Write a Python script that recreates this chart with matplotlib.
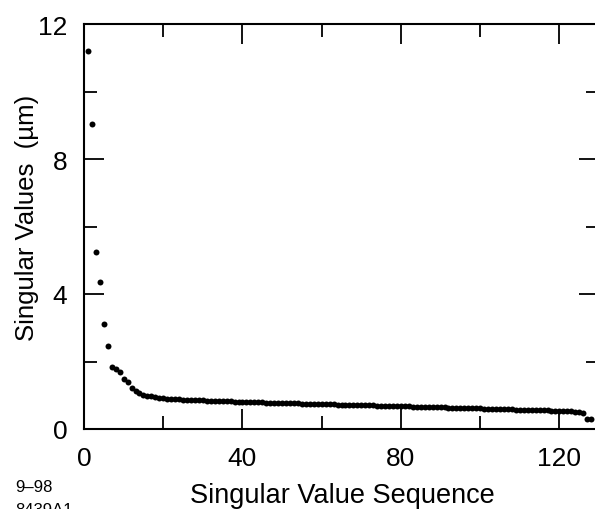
import matplotlib
matplotlib.use("Agg")
import matplotlib.pyplot as plt
from matplotlib.ticker import MultipleLocator

plt.rcParams['font.family'] = ['Liberation Sans', 'DejaVu Sans']

# Singular value index (1..128) and values (micrometres)
sequence = list(range(1, 129))
singular_values = [
    11.2, 9.05, 5.25, 4.35, 3.12, 2.45, 1.85, 1.78, 1.70, 1.48,
    1.38, 1.22, 1.12, 1.06, 1.02, 0.99, 0.97, 0.95, 0.93, 0.91,
    0.90, 0.89, 0.885, 0.88, 0.87, 0.865, 0.86, 0.855, 0.85, 0.845,
    0.84, 0.835, 0.83, 0.83, 0.825, 0.82, 0.815, 0.81, 0.805, 0.80,
    0.80, 0.80, 0.795, 0.79, 0.79, 0.785, 0.78, 0.78, 0.775, 0.77,
    0.77, 0.765, 0.76, 0.76, 0.755, 0.75, 0.75, 0.745, 0.745, 0.74,
    0.735, 0.735, 0.73, 0.725, 0.725, 0.72, 0.715, 0.715, 0.71, 0.705,
    0.705, 0.70, 0.70, 0.695, 0.69, 0.69, 0.685, 0.68, 0.68, 0.675,
    0.67, 0.67, 0.665, 0.66, 0.66, 0.655, 0.65, 0.65, 0.645, 0.64,
    0.64, 0.635, 0.635, 0.63, 0.625, 0.625, 0.62, 0.615, 0.615, 0.61,
    0.605, 0.60, 0.60, 0.595, 0.59, 0.585, 0.585, 0.58, 0.575, 0.57,
    0.57, 0.565, 0.56, 0.56, 0.555, 0.55, 0.55, 0.545, 0.54, 0.54,
    0.535, 0.53, 0.52, 0.51, 0.49, 0.46, 0.31, 0.29,
]

x_ticks = [0, 40, 80, 120]
y_ticks = [0, 4, 8, 12]

W, H = 595, 510
fig = plt.figure(figsize=(W / 100, H / 100), dpi=100)
ax = fig.add_axes([84 / W, 80 / H, (599 - 84) / W, 405 / H])

ax.plot(sequence, singular_values, 'o', color='black', markersize=4.3,
        markeredgewidth=0, clip_on=False)

ax.set_xlim(0, 130)
ax.set_ylim(0, 12)
ax.set_xticks(x_ticks)
ax.set_yticks(y_ticks)
ax.xaxis.set_minor_locator(MultipleLocator(20))
ax.yaxis.set_minor_locator(MultipleLocator(2))

for s in ax.spines.values():
    s.set_linewidth(1.5)

ax.tick_params(which='both', direction='in', top=True, right=True, width=1.3)
ax.tick_params(which='major', length=14.4, labelsize=19, pad=12)
ax.tick_params(which='minor', length=9.4)

fig.text(342 / W, (H - 503) / H, 'Singular Value Sequence', fontsize=19.5,
         ha='center', va='baseline')
fig.text(27 / W, (H - 218) / H, 'Singular Values  (µm)', fontsize=18.5,
         ha='center', va='center', rotation=90)
fig.text(15 / W, (H - 492) / H, '9–98', fontsize=12, ha='left', va='baseline')
fig.text(15 / W, (H - 515) / H, '8439A1', fontsize=12, ha='left', va='baseline')

fig.savefig('out.png', dpi=100)
